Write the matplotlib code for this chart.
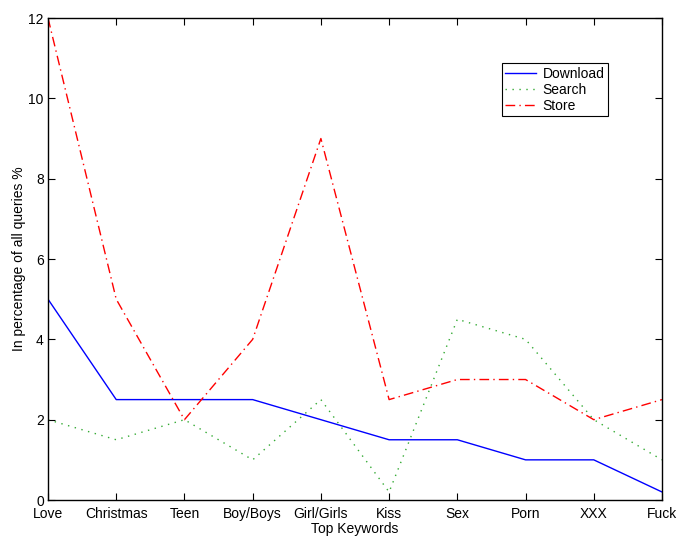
import matplotlib

matplotlib.use("Agg")
import matplotlib.pyplot as plt
import numpy as np

keywords = ["Love", "Christmas", "Teen", "Boy/Boys", "Girl/Girls",
            "Kiss", "Sex", "Porn", "XXX", "Fuck"]
download = [5, 2.5, 2.5, 2.5, 2, 1.5, 1.5, 1, 1, 0.2]
search = [2, 1.5, 2, 1, 2.5, 0.2, 4.5, 4, 2, 1]
store = [12, 5, 2, 4, 9, 2.5, 3, 3, 2, 2.5]

plt.rcParams["font.family"] = ["Liberation Sans", "DejaVu Sans"]
plt.rcParams["font.size"] = 10

fig = plt.figure(figsize=(6.78, 5.38), dpi=100)
ax = fig.add_axes([0.0708, 0.0706, 0.9056, 0.8959])

x = np.arange(1, len(keywords) + 1)
ax.plot(x, download, color="blue", linewidth=1.0, label="Download")
ax.plot(x, search, color="#33aa33", linestyle=(0, (1, 4)), linewidth=1.0, label="Search")
ax.plot(x, store, color="red", linestyle=(0, (7, 3, 1, 3)), linewidth=1.0, label="Store")

ax.set_xlim(1, len(keywords))
ax.set_ylim(0, 12)
ax.set_xticks(x)
ax.set_xticklabels(keywords)
ax.set_yticks(np.arange(0, 13, 2))
ax.tick_params(direction="in", top=True, right=True, length=5)
ax.tick_params(axis="x", pad=5)
ax.tick_params(axis="y", pad=3)
for spine in ax.spines.values():
    spine.set_linewidth(1.0)

ax.set_xlabel("Top Keywords", labelpad=1)
ax.set_ylabel("In percentage of all queries %", labelpad=2)

leg = ax.legend(loc="upper left", bbox_to_anchor=(0.739, 0.9066), frameon=True,
                fancybox=False, edgecolor="black", framealpha=1, borderaxespad=0,
                borderpad=0.25, labelspacing=0.15, handlelength=2.2, handletextpad=0.5)
leg.get_frame().set_linewidth(0.8)

fig.savefig("out.png", dpi=100)
